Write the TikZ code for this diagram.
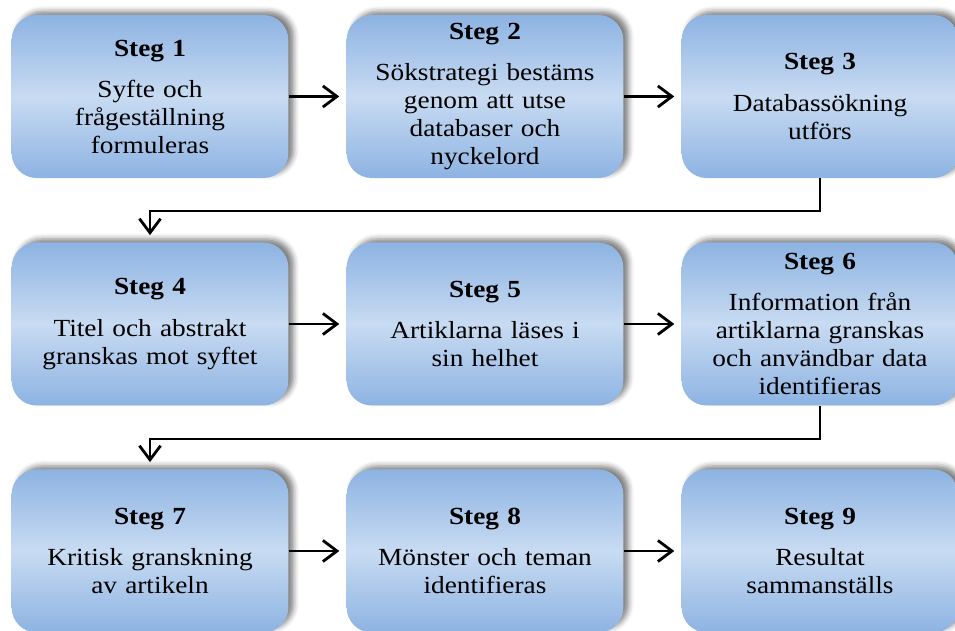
\documentclass[tikz,border=0pt]{standalone}
\usepackage{fontspec}
\setmainfont{Liberation Serif}[FakeStretch=1.11]
\usetikzlibrary{arrows.meta,shadows.blur}
\definecolor{stegtop}{RGB}{141,179,226}
\definecolor{stegmid}{RGB}{200,219,242}
\tikzset{
  >={Straight Barb[length=8pt,width=12pt]},
  steg/.style={draw=none, rounded corners=0.5cm, minimum width=5.44cm,
    minimum height=3.26cm, text width=5.3cm, align=center,
    top color=stegtop, bottom color=stegtop, middle color=stegmid,
    blur shadow={shadow xshift=3pt, shadow yshift=2pt, shadow blur radius=3pt, shadow opacity=50},
    font=\fontsize{14}{15.9}\selectfont},
  flow/.style={->, line width=1.6pt, shorten >=4pt},
}
\newcommand{\steg}[2]{\textbf{Steg #1}\\[7.5pt]#2}

\begin{document}
\begin{tikzpicture}
    \useasboundingbox (0,0) rectangle (19.1,12.62);
    % Rad 1
    \node[steg] (s1) at (3.0,10.69)  {\steg{1}{Syfte och\\frågeställning\\formuleras}};
    \node[steg] (s2) at (9.7,10.69)  {\steg{2}{Sökstrategi bestäms\\genom att utse\\databaser och\\nyckelord}};
    \node[steg] (s3) at (16.4,10.69) {\steg{3}{Databassökning\\utförs}};
    % Rad 2
    \node[steg] (s4) at (3.0,6.14)   {\steg{4}{Titel och abstrakt\\granskas mot syftet}};
    \node[steg] (s5) at (9.7,6.14)   {\steg{5}{Artiklarna läses i\\sin helhet}};
    \node[steg] (s6) at (16.4,6.14)  {\steg{6}{Information från\\artiklarna granskas\\och användbar data\\identifieras}};
    % Rad 3
    \node[steg] (s7) at (3.0,1.6)    {\steg{7}{Kritisk granskning\\av artikeln}};
    \node[steg] (s8) at (9.7,1.6)    {\steg{8}{Mönster och teman\\identifieras}};
    \node[steg] (s9) at (16.4,1.6)   {\steg{9}{Resultat\\sammanställs}};
    % Knutpunkter
    \coordinate (k1) at (16.4,8.4);
    \coordinate (k2) at (16.4,3.84);
    \path[flow]
      (s1) edge (s2)
      (s2) edge (s3)
      (s4) edge (s5)
      (s5) edge (s6)
      (s7) edge (s8)
      (s8) edge (s9);
    \draw[flow] (s3.south) -- (k1) -| (s4.north);
    \draw[flow] (s6.south) -- (k2) -| (s7.north);
\end{tikzpicture}
\end{document}
